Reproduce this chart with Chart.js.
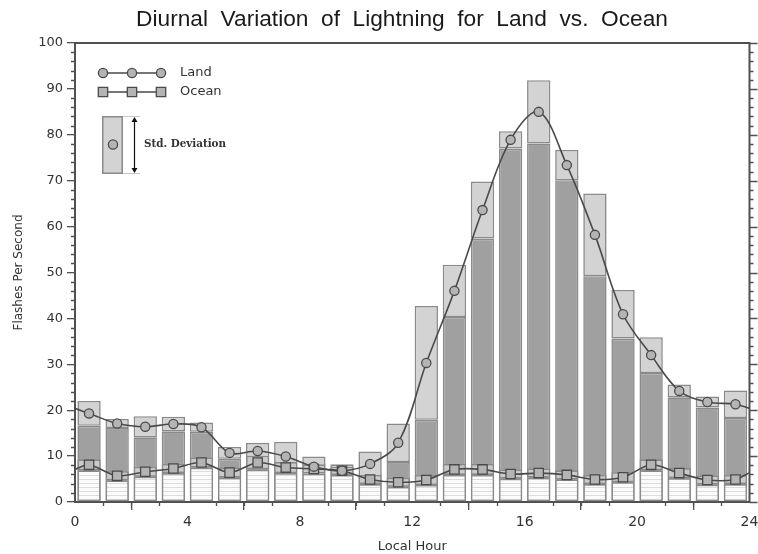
<!DOCTYPE html>
<html><head><meta charset="utf-8">
<script src="https://cdn.jsdelivr.net/npm/chart.js@4.4.0/dist/chart.umd.min.js"></script>
<style>html,body{margin:0;padding:0;background:#fff;}canvas{display:block;}</style>
</head><body>
<canvas id="c" width="758" height="554"></canvas>
<script>
// ---- data ----
const titleText = 'Diurnal  Variation  of  Lightning  for  Land  vs.  Ocean';
const xTitle = 'Local Hour';
const yTitle = 'Flashes Per Second';
const hours = [0.5,1.5,2.5,3.5,4.5,5.5,6.5,7.5,8.5,9.5,10.5,11.5,12.5,13.5,14.5,15.5,16.5,17.5,18.5,19.5,20.5,21.5,22.5,23.5];
const landMean = [19.3,17.1,16.4,17.0,16.3,10.7,11.1,9.9,7.7,6.8,8.3,12.9,30.3,46.0,63.6,78.9,85.0,73.4,58.2,40.9,32.0,24.2,21.8,21.3];
const landSD   = [2.7,1.0,2.3,1.6,1.0,1.3,1.8,3.2,2.2,1.4,2.7,4.2,12.4,5.7,6.2,1.9,6.9,3.3,9.0,5.3,3.9,1.4,1.2,3.0];
const oceanMean = [8.1,5.7,6.6,7.3,8.6,6.4,8.6,7.5,7.2,6.8,4.9,4.3,4.8,7.1,7.1,6.1,6.3,5.9,4.9,5.4,8.1,6.3,4.8,4.9];
const oceanSD   = [1.2,1.0,1.1,1.0,1.1,1.1,1.5,1.2,1.0,0.9,1.0,1.0,1.1,1.2,1.2,1.0,1.0,1.0,1.0,1.1,1.2,1.1,1.0,1.0];
const edgeHours = [0, 24];
const landEdge  = [20.4, 20.4];
const oceanEdge = [7.1, 6.4];
const legendLabels = ['Land', 'Ocean', 'Std. Deviation'];

// ---- build datasets ----
const landLow  = landMean.map((m,i)=>[0, m - landSD[i]]);
const landBox  = landMean.map((m,i)=>[m - landSD[i], m + landSD[i]]);
const oceanLow = oceanMean.map((m,i)=>[0, m - oceanSD[i]]);
const oceanBox = oceanMean.map((m,i)=>[m - oceanSD[i], m + oceanSD[i]]);
const toXY = (arr)=>hours.map((h,i)=>({x:h, y:arr[i]}));
function lineData(vals, edge){
  return [{x:edgeHours[0], y:edge[0]}].concat(toXY(vals), [{x:edgeHours[1], y:edge[1]}]);
}
const nPts = hours.length + 2;
const ptRadius = (r)=>Array.from({length:nPts},(_,i)=> (i===0||i===nPts-1)?0:r);

// hatch pattern for the ocean base
const pc = document.createElement('canvas'); pc.width = 6; pc.height = 4;
const pctx = pc.getContext('2d');
pctx.fillStyle = '#fbfbfb'; pctx.fillRect(0,0,6,4);
pctx.fillStyle = '#dcdcdc'; pctx.fillRect(0,3,6,1);
const hatch = document.createElement('canvas').getContext('2d').createPattern(pc,'repeat');

const EDGE = '#8a8a8a';
const LINE = '#4a4a4a';
const PTFILL = '#b4b4b4';
const barCommon = {type:'bar', grouped:false, barPercentage:0.83, categoryPercentage:1, borderColor:EDGE, borderWidth:1.6, borderSkipped:false};

const datasets = [
  {type:'line', label:'Land', data:lineData(landMean, landEdge), borderColor:LINE, borderWidth:1.6, tension:0.35,
   pointStyle:'circle', pointRadius:ptRadius(4.6), pointBackgroundColor:PTFILL, pointBorderColor:LINE, pointBorderWidth:1.3, order:0},
  {type:'line', label:'Ocean', data:lineData(oceanMean, oceanEdge), borderColor:LINE, borderWidth:1.6, tension:0.3,
   pointStyle:'rect', pointRadius:ptRadius(6.6), pointBackgroundColor:PTFILL, pointBorderColor:LINE, pointBorderWidth:1.3, order:1},
  Object.assign({label:'oceanBox', data:hours.map((h,i)=>({x:h,y:oceanBox[i]})), backgroundColor:'#cbcbcb', order:2}, barCommon),
  Object.assign({label:'oceanLow', data:hours.map((h,i)=>({x:h,y:oceanLow[i]})), backgroundColor:hatch, order:3}, barCommon),
  Object.assign({label:'landBox', data:hours.map((h,i)=>({x:h,y:landBox[i]})), backgroundColor:'#d3d3d3', order:4}, barCommon),
  Object.assign({label:'landLow', data:hours.map((h,i)=>({x:h,y:landLow[i]})), backgroundColor:'#a0a0a0', order:5}, barCommon)
];

// ---- decorations: frame, minor ticks, title, legend ----
const deco = {
  id:'deco',
  afterDraw(chart){
    const {ctx, chartArea:a, scales:{x, y}} = chart;
    ctx.save();
    ctx.strokeStyle = '#505050';
    ctx.lineWidth = 2;
    ctx.beginPath();
    ctx.moveTo(a.left, a.top); ctx.lineTo(a.right, a.top); ctx.lineTo(a.right, a.bottom);
    ctx.stroke();
    ctx.lineWidth = 1.3;
    ctx.beginPath();
    for (let v = y.min; v <= y.max; v += 2) {
      const py = Math.round(y.getPixelForValue(v)) + 0.5;
      const major = v % 10 === 0;
      if (!major) { ctx.moveTo(a.left - 4, py); ctx.lineTo(a.left, py); }
      ctx.moveTo(a.right, py); ctx.lineTo(a.right + (major ? 8 : 4), py);
    }
    for (let h = x.min; h <= x.max; h += 1) {
      if (h % 4 === 0) continue;
      const px = Math.round(x.getPixelForValue(h)) + 0.5;
      ctx.moveTo(px, a.bottom); ctx.lineTo(px, a.bottom + 4);
    }
    ctx.stroke();

    // title
    ctx.fillStyle = '#1a1a1a';
    ctx.font = '22.7px "Liberation Sans", Arial, sans-serif';
    ctx.textAlign = 'center'; ctx.textBaseline = 'middle';
    ctx.fillText(titleText, 402, 20);

    // legend
    const lx = a.left + 28, ly1 = a.top + 30, ly2 = a.top + 49;
    ctx.strokeStyle = LINE; ctx.lineWidth = 1.6;
    ctx.beginPath(); ctx.moveTo(lx, ly1); ctx.lineTo(lx + 58, ly1);
    ctx.moveTo(lx, ly2); ctx.lineTo(lx + 58, ly2); ctx.stroke();
    ctx.lineWidth = 1.3; ctx.fillStyle = PTFILL;
    for (let k = 0; k < 3; k++) {
      const cx = lx + k * 29;
      ctx.beginPath(); ctx.arc(cx, ly1, 4.6, 0, Math.PI * 2); ctx.fill(); ctx.stroke();
      ctx.beginPath(); ctx.rect(cx - 4.7, ly2 - 4.7, 9.4, 9.4); ctx.fill(); ctx.stroke();
    }
    ctx.fillStyle = '#333';
    ctx.font = '13px "DejaVu Sans", sans-serif';
    ctx.textAlign = 'left';
    ctx.fillText(legendLabels[0], lx + 77, ly1);
    ctx.fillText(legendLabels[1], lx + 77, ly2);
    // std deviation glyph
    const bx = a.left + 27, bt = a.top + 73, bb = a.top + 131;
    ctx.strokeStyle = '#c8c8c8'; ctx.lineWidth = 1;
    ctx.beginPath(); ctx.moveTo(bx + 21, bt + 0.5); ctx.lineTo(bx + 38, bt + 0.5);
    ctx.moveTo(bx + 21, bb - 0.5); ctx.lineTo(bx + 38, bb - 0.5); ctx.stroke();
    ctx.fillStyle = '#d3d3d3'; ctx.strokeStyle = EDGE; ctx.lineWidth = 1.5;
    ctx.fillRect(bx, bt, 21, bb - bt); ctx.strokeRect(bx + 0.75, bt + 0.75, 19.5, bb - bt - 1.5);
    ctx.fillStyle = PTFILL; ctx.strokeStyle = LINE; ctx.lineWidth = 1.3;
    ctx.beginPath(); ctx.arc(bx + 11, (bt + bb) / 2 - 0.5, 4.6, 0, Math.PI * 2); ctx.fill(); ctx.stroke();
    const ax = bx + 32.5;
    ctx.strokeStyle = '#111'; ctx.fillStyle = '#111'; ctx.lineWidth = 1.2;
    ctx.beginPath(); ctx.moveTo(ax, bt + 3); ctx.lineTo(ax, bb - 3); ctx.stroke();
    ctx.beginPath(); ctx.moveTo(ax, bt + 1); ctx.lineTo(ax - 3, bt + 6); ctx.lineTo(ax + 3, bt + 6); ctx.closePath(); ctx.fill();
    ctx.beginPath(); ctx.moveTo(ax, bb - 1); ctx.lineTo(ax - 3, bb - 6); ctx.lineTo(ax + 3, bb - 6); ctx.closePath(); ctx.fill();
    ctx.fillStyle = '#333';
    ctx.font = 'bold 11.5px "DejaVu Serif Condensed", "DejaVu Serif", serif';
    ctx.fillText(legendLabels[2], bx + 42, (bt + bb) / 2 - 1);
    ctx.restore();
  }
};

new Chart(document.getElementById('c'), {
  data: {datasets},
  options: {
    responsive:false, animation:false,
    layout:{padding:{top:43, right:8.5, left:0, bottom:0}},
    plugins:{legend:{display:false}, tooltip:{enabled:false}, title:{display:false}},
    scales:{
      x:{type:'linear', min:0, max:24, offset:false,
        ticks:{stepSize:4, font:{family:'"DejaVu Sans"', size:14}, color:'#333', padding:4, maxRotation:0},
        grid:{drawOnChartArea:false, drawTicks:true, tickLength:8, color:'#505050', lineWidth:1.3},
        border:{display:true, color:'#505050', width:2},
        title:{display:true, text:xTitle, font:{family:'"DejaVu Sans"', size:13}, color:'#333', padding:{top:0, bottom:0}},
        afterFit(s){ s.height = 52; s.paddingLeft = 0; s.paddingRight = 0; }
      },
      y:{type:'linear', min:0, max:100,
        ticks:{stepSize:10, font:{family:'"DejaVu Sans"', size:13}, color:'#333', padding:4},
        grid:{drawOnChartArea:false, drawTicks:true, tickLength:8, color:'#505050', lineWidth:1.3},
        border:{display:true, color:'#505050', width:2},
        title:{display:true, text:yTitle, font:{family:'"DejaVu Sans"', size:12}, color:'#333', padding:{top:12, bottom:0}},
        afterFit(s){ s.width = 75; s.paddingTop = 0; s.paddingBottom = 0; }
      }
    }
  },
  plugins:[deco]
});
</script>
</body></html>
